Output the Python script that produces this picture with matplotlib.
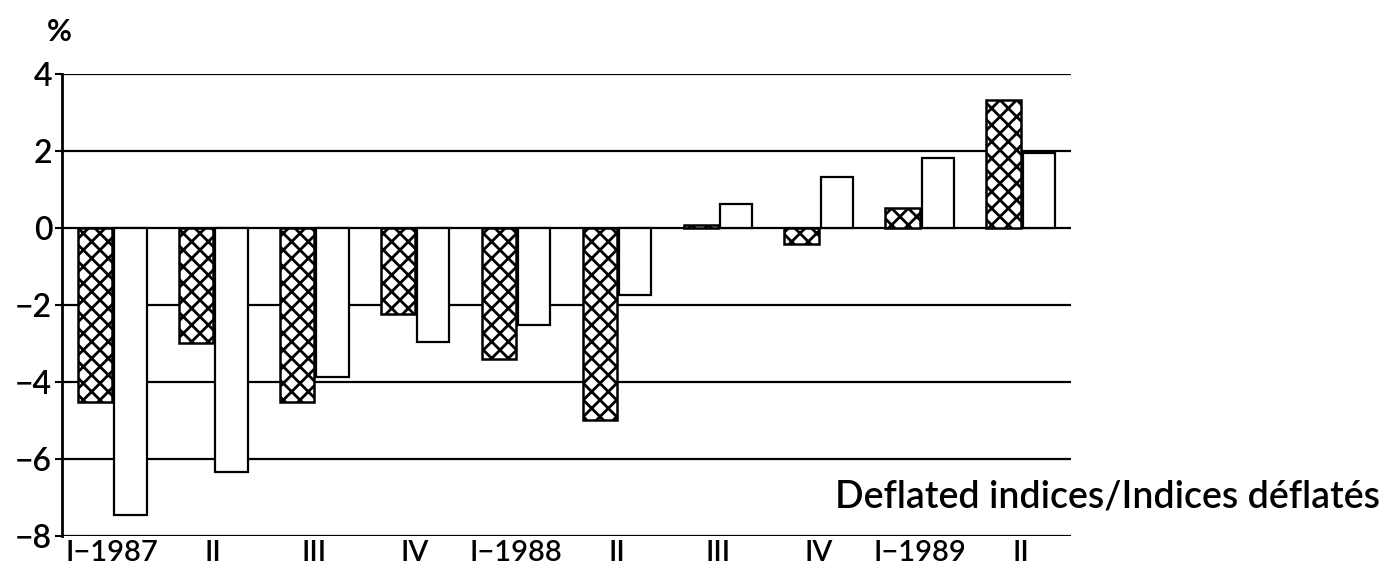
import numpy as np
import matplotlib
matplotlib.use('Agg')
import matplotlib.pyplot as plt

# quarters and the two series (percent changes, deflated indices)
quarters = ['I\u22121987', 'II', 'III', 'IV', 'I\u22121988', 'II', 'III', 'IV', 'I\u22121989', 'II']
hatched_vals = [-4.52, -2.99, -4.52, -2.23, -3.40, -4.99, 0.08, -0.42, 0.52, 3.32]
white_vals = [-7.45, -6.34, -3.87, -2.96, -2.52, -1.74, 0.62, 1.32, 1.82, 1.95]
y_ticks = [-8, -6, -4, -2, 0, 2, 4]

plt.rcParams['hatch.linewidth'] = 2.0
plt.rcParams['font.family'] = ['Lato', 'DejaVu Sans']

fig = plt.figure(figsize=(13.86, 5.74), dpi=100)
ax = fig.add_axes([0.0447, 0.066, 0.728, 0.805])

x = np.arange(len(quarters))
w = 0.34

for y in y_ticks:
    ax.axhline(y, color='black', lw=1.6, zorder=0)

ax.bar(x - w / 2, hatched_vals, width=w, facecolor='white', edgecolor='black',
       hatch='xx', linewidth=1.8, zorder=2)
ax.bar(x + w / 2 + 0.01, white_vals, width=w - 0.02, facecolor='white', edgecolor='black',
       linewidth=1.6, zorder=2)

ax.set_xlim(-0.5, 9.5)
ax.set_ylim(-8, 4)
ax.set_yticks(y_ticks)
ax.set_yticklabels([str(v).replace('-', '\u2212') for v in y_ticks],
                   fontsize=23, fontweight='semibold')
ax.set_xticks(x)
ax.set_xticklabels(quarters, fontsize=21, fontweight='semibold')
ax.tick_params(axis='x', length=0, pad=3)
ax.tick_params(axis='y', length=5, width=1.5, direction='out', pad=2)

for s in ['top', 'right', 'bottom']:
    ax.spines[s].set_visible(False)
ax.spines['left'].set_linewidth(2)

fig.text(0.043, 0.945, '%', fontsize=22, fontweight='bold', ha='center', va='center')
fig.text(0.996, 0.135, 'Deflated indices/Indices déflatés', fontsize=27,
         fontweight='semibold', ha='right', va='center')

fig.savefig('out.png', dpi=100)
